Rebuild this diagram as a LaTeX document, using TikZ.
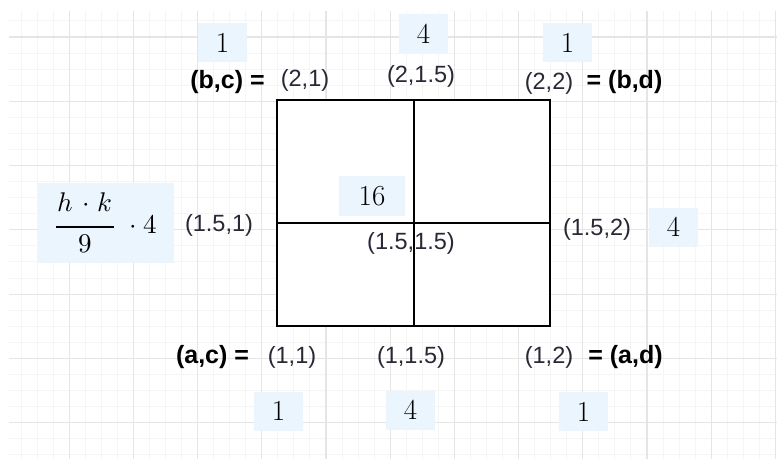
\documentclass[tikz,border=0pt]{standalone}
\usepackage{amsmath}
\usepackage{fontspec}
\usepackage{unicode-math}
\setmathfont{Latin Modern Math}
\newfontfamily\arialfont{Liberation Sans}
\usetikzlibrary{positioning}
\definecolor{gridmajor}{RGB}{229,229,229}
\definecolor{gridminor}{RGB}{245,245,245}
\definecolor{wbox}{RGB}{234,245,253}
\definecolor{ptcol}{RGB}{40,40,54}
\tikzset{
  wt/.style={fill=wbox, inner sep=0pt, minimum width=49pt, minimum height=39pt, font=\fontsize{29}{34}\selectfont},
  ptlabel/.style={inner sep=0pt, text=ptcol, font=\arialfont\fontsize{23.5}{28}\selectfont},
  eqlabel/.style={inner sep=0pt, text=black, font=\arialfont\bfseries\fontsize{25}{30}\selectfont}
}
\begin{document}
\begin{tikzpicture}[x=1pt,y=-1pt]
        \def\xl{277}
        \def\xm{414}
        \def\xr{550}
        \def\yt{100}
        \def\ym{223}
        \def\yb{326}
        \useasboundingbox (0,0) rectangle (777,459);
        \fill[white] (0,0) rectangle (777,459);
        % Draw the grid
        \begin{scope}
          \clip (9,11) rectangle (777,459);
          \foreach \k in {0,...,48} \draw[gridminor, line width=1pt] ({5+16.05*\k},11) -- ++(0,448);
          \foreach \k in {-1,...,26} \draw[gridminor, line width=1pt] (9,{37+16.07*\k}) -- ++(768,0);
          \foreach \k in {0,...,12} \draw[gridmajor, line width=1.2pt] ({5+64.2*\k},11) -- ++(0,448);
          \foreach \k in {0,...,6} \draw[gridmajor, line width=1.2pt] (9,{37+64.28*\k}) -- ++(768,0);
        \end{scope}
        % corners and mid points
        \coordinate (ac) at (\xl,\yb);
        \coordinate (bc) at (\xl,\yt);
        \coordinate (bd) at (\xr,\yt);
        \coordinate (ad) at (\xr,\yb);
        \coordinate (top) at (\xm,\yt);
        \coordinate (bot) at (\xm,\yb);
        \coordinate (left) at (\xl,\ym);
        \coordinate (right) at (\xr,\ym);
        % Draw the rectangle
        \fill[white] (ac) rectangle (bd);
        \draw[line width=1.5pt] (ac) rectangle (bd);
        \draw[line width=1.5pt] (top) -- (bot);
        \draw[line width=1.5pt] (left) -- (right);
        % weights
        \node[wt] (w-bc) at (222.5,42.5) {1};
        \node[wt] (w-top) at (423.5,33.5) {4};
        \node[wt] (w-bd) at (567.5,42.5) {1};
        \node[wt, minimum width=66pt, minimum height=40pt] (w-mid) at (372,196) {16};
        \node[wt] (w-right) at (673.5,227) {4};
        \node[wt] (w-ac) at (278.5,411) {1};
        \node[wt] (w-bot) at (410.5,410) {4};
        \node[wt] (w-ad) at (583.5,411.5) {1};
        \node[wt, minimum width=136pt, minimum height=80pt, font=\fontsize{27}{32}\selectfont] (w-left) at (106,223)
          {$\dfrac{\mkern1mu h\mkern2mu\cdot\mkern1mu k\mkern1mu\rule[-11.3pt]{0pt}{0pt}}{9}\mkern6mu\cdot 4$};
        % points
        \node[eqlabel] (eq-bc) at (227.5,82) {(b,c) =};
        \node[ptlabel] (p-21) at (305,80) {(2,1)};
        \node[ptlabel] (p-215) at (421,76) {(2,1.5)};
        \node[ptlabel] (p-22) at (549,83) {(2,2)};
        \node[eqlabel] (eq-bd) at (624.5,82) {= (b,d)};
        \node[ptlabel] (p-151) at (219,225) {(1.5,1)};
        \node[ptlabel] (p-1515) at (411,243) {(1.5,1.5)};
        \node[ptlabel] (p-152) at (597,229) {(1.5,2)};
        \node[eqlabel] (eq-ac) at (212.5,357) {(a,c) =};
        \node[ptlabel] (p-11) at (292,357) {(1,1)};
        \node[ptlabel] (p-115) at (411,357) {(1,1.5)};
        \node[ptlabel] (p-12) at (549,357) {(1,2)};
        \node[eqlabel] (eq-ad) at (625.5,357) {= (a,d)};
      \end{tikzpicture}
\end{document}
